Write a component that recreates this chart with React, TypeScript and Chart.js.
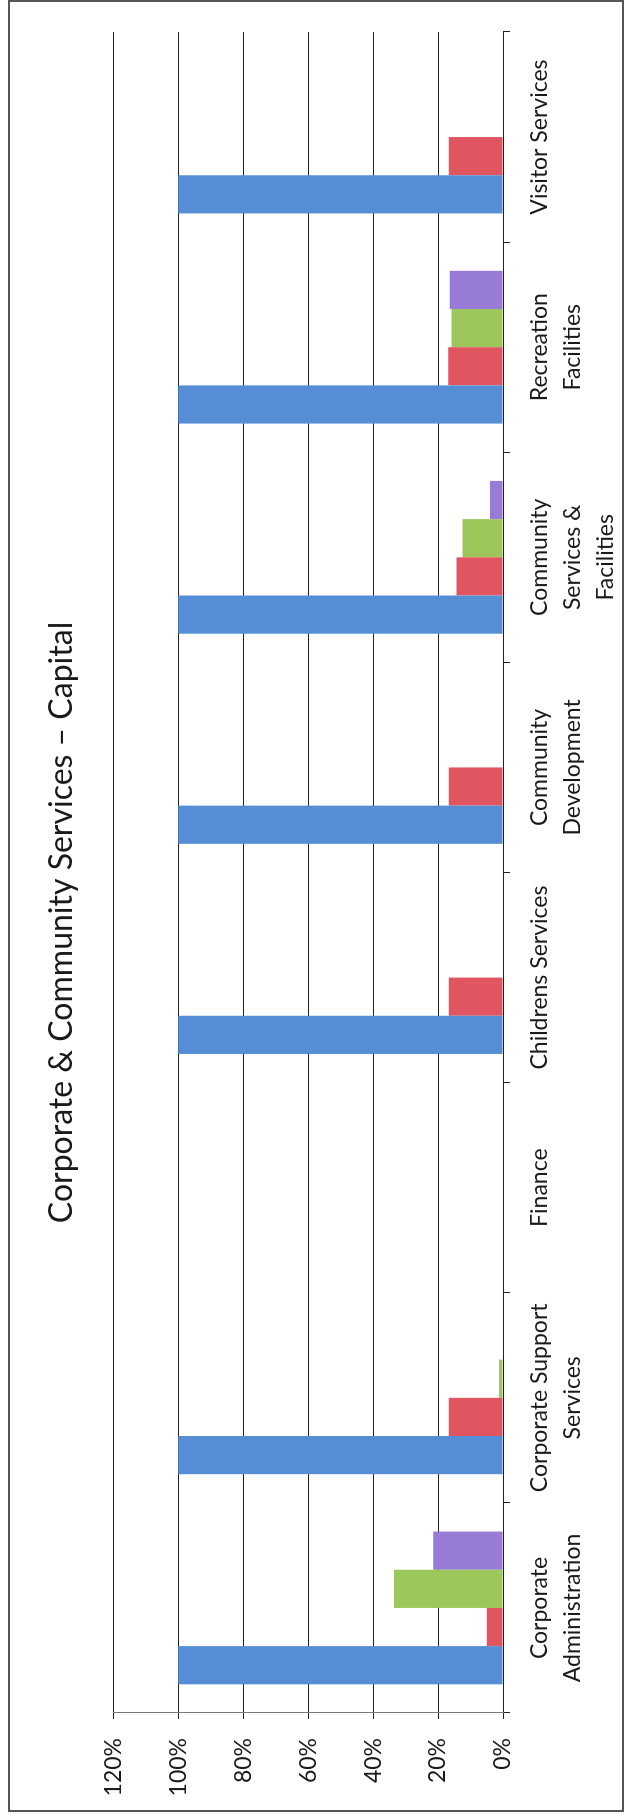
import { useEffect, useRef } from 'react';
import { Chart, registerables } from 'chart.js';

Chart.register(...registerables);

// Page size; the chart is drawn landscape and turned a quarter turn so it reads bottom-to-top.
const PAGE_W = 630;
const PAGE_H = 1813;

const chartTitle = 'Corporate & Community Services – Capital';

const categories: (string | string[])[] = [
  ['Corporate', 'Administration'],
  ['Corporate Support', 'Services'],
  'Finance',
  'Childrens Services',
  ['Community', 'Development'],
  ['Community', 'Services &', 'Facilities'],
  ['Recreation', 'Facilities'],
  'Visitor Services',
];

// Percentages per unit
const blueSeries = [100, 100, 0, 100, 100, 100, 100, 100];
const redSeries = [5, 16.7, 0, 16.7, 16.7, 14.3, 16.9, 16.7];
const greenSeries = [33.6, 1.2, 0, 0, 0, 12.5, 15.9, 0];
const purpleSeries = [21.5, 0, 0, 0, 0, 4, 16.4, 0];

const valueMax = 120;
const valueStep = 20;

const FONT = 'Lato, "Open Sans", sans-serif';
const TEXT = '#1a1a1a';

export default function App() {
  const canvasRef = useRef<HTMLCanvasElement | null>(null);

  useEffect(() => {
    let chart: Chart | null = null;
    let cancelled = false;

    const build = () => {
      if (cancelled || !canvasRef.current) return;
      chart = new Chart(canvasRef.current, {
        type: 'bar',
        data: {
          labels: categories,
          datasets: [
            { label: 'Series 1', data: blueSeries, backgroundColor: '#558ED5' },
            { label: 'Series 2', data: redSeries, backgroundColor: '#E0555F' },
            { label: 'Series 3', data: greenSeries, backgroundColor: '#9DC75B' },
            { label: 'Series 4', data: purpleSeries, backgroundColor: '#977BD6' },
          ],
        },
        options: {
          responsive: false,
          animation: false,
          devicePixelRatio: 1,
          layout: { padding: { left: 0, right: 32, top: 0, bottom: 0 } },
          datasets: { bar: { categoryPercentage: 0.727, barPercentage: 1 } },
          plugins: {
            legend: { display: false },
            tooltip: { enabled: false },
            title: {
              display: true,
              text: chartTitle,
              color: TEXT,
              font: { family: FONT, size: 32, weight: 'normal', lineHeight: 1.2 },
              padding: { top: 42, bottom: 33 },
            },
          },
          scales: {
            x: {
              grid: {
                display: true,
                drawOnChartArea: false,
                drawTicks: true,
                tickLength: 7,
                color: '#222',
                offset: true,
              },
              border: { display: true, color: '#222', width: 1 },
              ticks: {
                color: TEXT,
                font: { family: FONT, size: 23, lineHeight: 1.43 },
                padding: 13,
                maxRotation: 0,
                minRotation: 0,
                autoSkip: false,
              },
              afterFit: (scale: any) => {
                scale.height = 127;
              },
            },
            y: {
              min: 0,
              max: valueMax,
              grid: { color: '#222', lineWidth: 1, tickLength: 6 },
              border: { display: true, color: '#777', width: 1 },
              ticks: {
                stepSize: valueStep,
                color: TEXT,
                font: { family: FONT, size: 23 },
                padding: 19,
                callback: (v: any) => `${v}%`,
              },
              afterFit: (scale: any) => {
                scale.width = 100;
              },
            },
          },
        },
      });
    };

    const fonts = (document as any).fonts;
    if (fonts && fonts.load) {
      Promise.all([fonts.load('23px Lato'), fonts.load('32px Lato')])
        .catch(() => undefined)
        .then(build);
    } else {
      build();
    }

    return () => {
      cancelled = true;
      if (chart) chart.destroy();
    };
  }, []);

  return (
    <div
      style={{
        position: 'absolute',
        left: 0,
        top: 0,
        width: PAGE_W,
        height: PAGE_H,
        background: '#fff',
        overflow: 'hidden',
      }}
    >
      <canvas
        ref={canvasRef}
        width={PAGE_H}
        height={PAGE_W}
        style={{
          position: 'absolute',
          left: 0,
          top: PAGE_H,
          width: PAGE_H,
          height: PAGE_W,
          transformOrigin: '0 0',
          transform: 'rotate(-90deg)',
        }}
      />
      <div
        style={{
          position: 'absolute',
          left: 8,
          top: 0,
          width: 616,
          height: 1812,
          boxSizing: 'border-box',
          border: '2px solid #555',
          pointerEvents: 'none',
        }}
      />
    </div>
  );
}
